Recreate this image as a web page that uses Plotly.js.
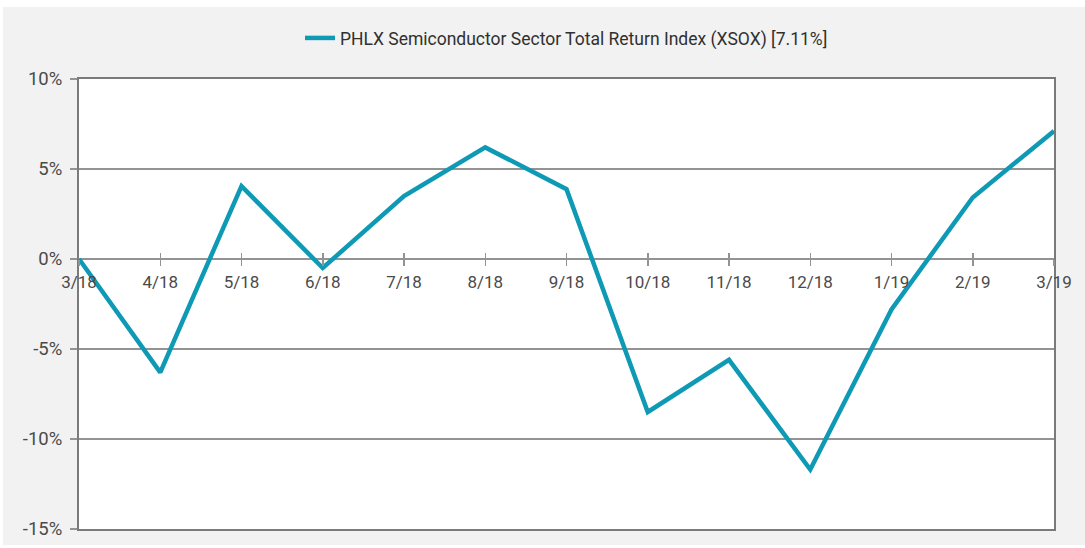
<!DOCTYPE html>
<html>
<head>
<meta charset="utf-8">
<script src="https://cdn.plot.ly/plotly-3.0.1.min.js"></script>
<style>
html,body{margin:0;padding:0;background:#ffffff;}
#chart{position:absolute;left:3px;top:7px;width:1082px;height:538px;}
</style>
</head>
<body>
<div id="chart"></div>
<script>
const months = ["3/18","4/18","5/18","6/18","7/18","8/18","9/18","10/18","11/18","12/18","1/19","2/19","3/19"];
const xsoxReturn = [0, -6.3, 4.05, -0.5, 3.5, 6.2, 3.88, -8.5, -5.6, -11.7, -2.8, 3.42, 7.11];
const seriesName = "PHLX Semiconductor Sector Total Return Index (XSOX) [7.11%]";
const yTickVals = [-15, -10, -5, 0, 5, 10];
const yTickText = ["-15%", "-10%", "-5%", "0%", "5%", "10%"];

const fontFam = "Roboto, 'Open Sans', sans-serif";
const gridCol = "#939393";
const textCol = "#4a4a4a";

const trace = {
  x: months,
  y: xsoxReturn,
  type: "scatter",
  mode: "lines",
  name: seriesName,
  line: {color: "#0e99b5", width: 4.5},
  xaxis: "x",
  yaxis: "y"
};

const layout = {
  paper_bgcolor: "#f2f2f2",
  plot_bgcolor: "#ffffff",
  margin: {l: 76, r: 31, t: 72, b: 16, autoexpand: false},
  showlegend: true,
  legend: {
    orientation: "h",
    x: 0.5, xanchor: "center",
    y: 1.091, yanchor: "middle",
    font: {family: fontFam, size: 17.5, color: "#303030"},
    bgcolor: "rgba(0,0,0,0)"
  },
  font: {family: fontFam, size: 17, color: textCol},
  xaxis: {
    type: "category",
    categoryorder: "array",
    categoryarray: months,
    range: [0, 12],
    anchor: "free",
    position: 0.6,
    showgrid: false,
    zeroline: false,
    showline: false,
    ticks: "outside",
    ticklen: 6,
    tickwidth: 1.5,
    tickcolor: gridCol,
    ticklabelstandoff: 2,
    tickfont: {family: fontFam, size: 17, color: textCol},
    fixedrange: true
  },
  xaxis2: {
    overlaying: "x",
    anchor: "free",
    position: 0.6,
    range: [0, 12],
    dtick: 1,
    tick0: 0,
    ticks: "inside",
    ticklen: 6,
    tickwidth: 1.5,
    tickcolor: gridCol,
    showticklabels: false,
    showgrid: false,
    zeroline: false,
    showline: false
  },
  xaxis3: {
    overlaying: "x",
    anchor: "y",
    side: "bottom",
    range: [0, 12],
    showticklabels: false,
    ticks: "",
    showgrid: false,
    zeroline: false,
    showline: true,
    mirror: true,
    linecolor: "#7a7a7a",
    linewidth: 2
  },
  yaxis: {
    range: [-15, 10],
    tickvals: yTickVals,
    ticktext: yTickText,
    showgrid: true,
    gridcolor: gridCol,
    gridwidth: 1.5,
    zeroline: false,
    showline: true,
    mirror: true,
    linecolor: "#7a7a7a",
    linewidth: 2,
    ticks: "outside",
    ticklen: 7,
    tickwidth: 1.5,
    tickcolor: gridCol,
    ticklabelstandoff: 4,
    tickfont: {family: fontFam, size: 18.5, color: textCol},
    fixedrange: true
  }
};

const ghost2 = {x: [0, 12], y: [null, null], xaxis: "x2", yaxis: "y", showlegend: false, hoverinfo: "skip", mode: "lines"};
const ghost3 = {x: [0, 12], y: [null, null], xaxis: "x3", yaxis: "y", showlegend: false, hoverinfo: "skip", mode: "lines"};

Plotly.newPlot("chart", [ghost2, ghost3, trace], layout, {displayModeBar: false, staticPlot: true});
</script>
</body>
</html>
